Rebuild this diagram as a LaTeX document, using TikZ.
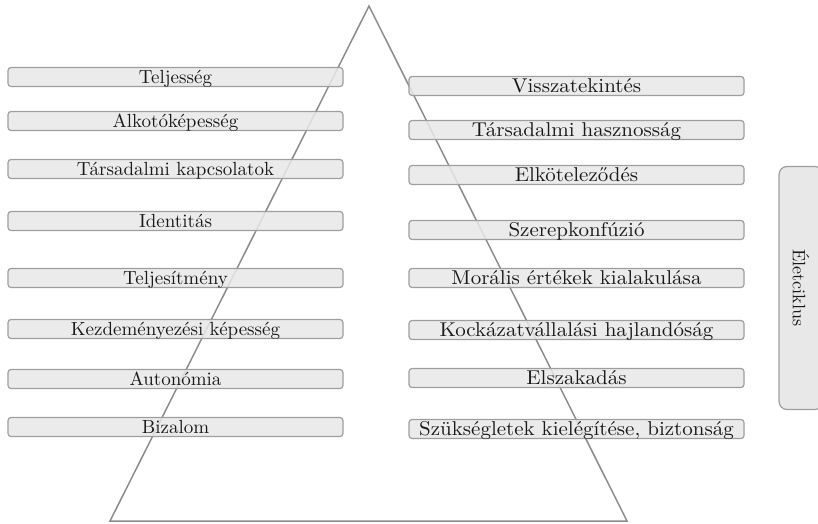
\documentclass[tikz,border=0pt]{standalone}
\usepackage{fontspec}
\setmainfont{lmroman10}[Extension=.otf,UprightFont=*-regular]
\newfontfamily\widefont{lmroman10}[Extension=.otf,UprightFont=*-regular,FakeStretch=1.05]
\begin{document}
\begin{tikzpicture}[x=1pt,y=-1pt,
  stagebox/.style={draw=black!38,line width=1.2pt,fill=black!9,fill opacity=0.85,text opacity=1,
    rounded corners=3pt,minimum width=335pt,minimum height=19pt,inner sep=0pt,
    text=black!90,text depth=0pt},
  leftbox/.style={stagebox,font=\fontsize{19}{20}\selectfont,text height=13pt},
  rightbox/.style={stagebox,font=\widefont\fontsize{20}{22}\selectfont,text height=13.7pt},
  sidebox/.style={draw=black!38,line width=1.2pt,fill=black!9,rounded corners=8pt,
    minimum width=243pt,minimum height=44pt,inner sep=0pt,rotate=-90,
    text=black!90,font=\fontsize{18}{20}\selectfont},
  tri/.style={draw=black!45,line width=1.5pt,line join=miter}]
\useasboundingbox (0,0) rectangle (818,523);
\coordinate (apex) at (369,6);
\coordinate (bl) at (110,521);
\coordinate (br) at (627,521);
\draw[tri] (apex) -- (bl) -- (br) -- cycle;
% left column
\node[leftbox] (l1) at (175.5,77) {Teljesség};
\node[leftbox] (l2) at (175.5,121) {Alkotóképesség};
\node[leftbox] (l3) at (175.5,169) {Társadalmi kapcsolatok};
\node[leftbox] (l4) at (175.5,221) {Identitás};
\node[leftbox] (l5) at (175.5,278) {Teljesítmény};
\node[leftbox] (l6) at (175.5,329) {Kezdeményezési képesség};
\node[leftbox] (l7) at (175.5,379) {Autonómia};
\node[leftbox] (l8) at (175.5,427) {Bizalom};
% right column
\node[rightbox] (r1) at (576.5,86) {Visszatekintés};
\node[rightbox] (r2) at (576.5,130) {Társadalmi hasznosság};
\node[rightbox] (r3) at (576.5,175) {Elköteleződés};
\node[rightbox] (r4) at (576.5,230) {Szerepkonfúzió};
\node[rightbox] (r5) at (576.5,278) {Morális értékek kialakulása};
\node[rightbox] (r6) at (576.5,330) {Kockázatvállalási hajlandóság};
\node[rightbox] (r7) at (576.5,378) {Elszakadás};
\node[rightbox] (r8) at (576.5,429) {Szükségletek kielégítése, biztonság};
% side label
\node[sidebox] (side) at (801,288) {Életciklus};
\end{tikzpicture}
\end{document}
